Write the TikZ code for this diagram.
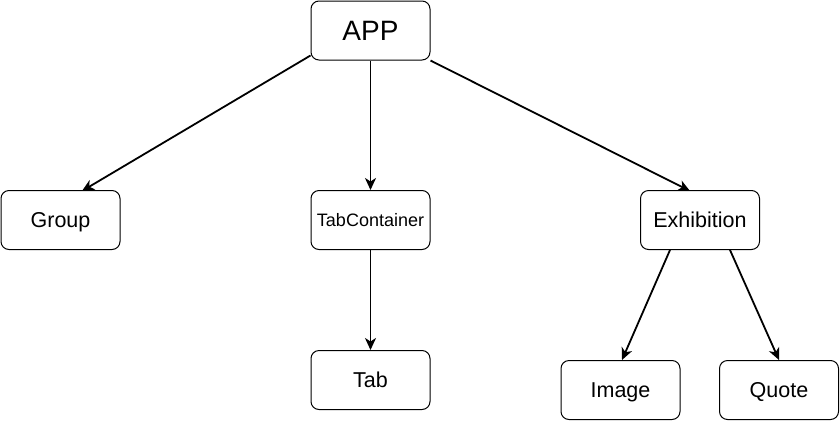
\documentclass[tikz,border=0pt]{standalone}
\usepackage{fontspec}
\setmainfont{Liberation Sans}
\usetikzlibrary{arrows.meta}
\begin{document}
\begin{tikzpicture}[x=1pt,y=-1pt,
  box/.style={draw=black,line width=1pt,rounded corners=8pt,minimum width=119pt,minimum height=59pt,inner sep=0pt,fill=white,text depth=0pt},
  lbl/.style={font=\fontsize{21.5}{24}\selectfont,text height=15.4pt},
  conn/.style={line width=1.8pt,-{Stealth[length=12pt,width=11pt,inset=3.5pt]}}]
\useasboundingbox (0,0) rectangle (840,421);
\node[box,font=\fontsize{28}{32}\selectfont,text height=20pt] (app) at (370.5,30.5) {APP};
\node[box,lbl] (group) at (60.5,220) {Group};
\node[box,font=\fontsize{18}{21}\selectfont,text height=12.9pt] (tabc) at (370.5,220) {TabContainer};
\node[box,lbl] (exh) at (700,220) {Exhibition};
\node[box,lbl] (tab) at (370.5,380) {Tab};
\node[box,lbl] (img) at (620.5,390) {Image};
\node[box,lbl] (quote) at (779,390) {Quote};
\draw[conn] ([yshift=5pt]app.south west) -- ([xshift=21.5pt,yshift=-1pt]group.north);
\draw[conn] (app.south) -- (tabc.north);
\draw[conn] (app.south east) -- ([xshift=-10pt,yshift=-1pt]exh.north);
\draw[conn] (tabc.south) -- (tab.north);
\draw[conn] ([xshift=-30pt]exh.south) -- ([xshift=1.5pt]img.north);
\draw[conn] ([xshift=30pt]exh.south) -- (quote.north);
\end{tikzpicture}
\end{document}
